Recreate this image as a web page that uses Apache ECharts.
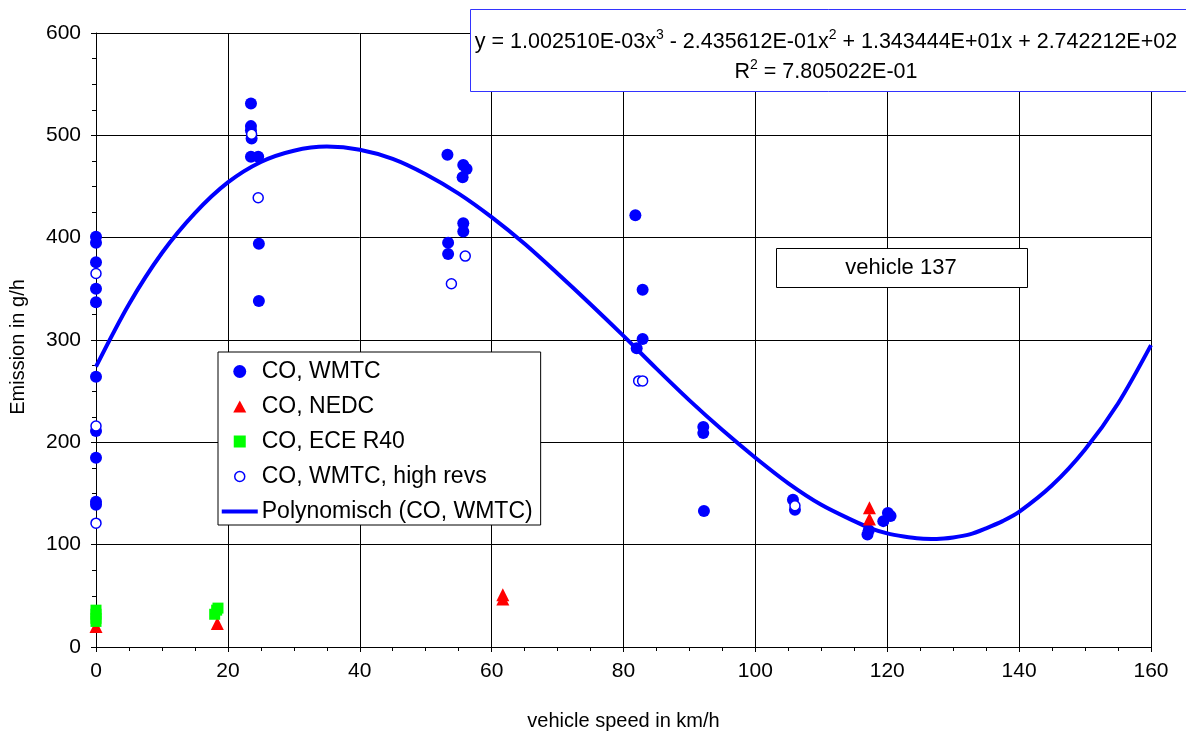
<!DOCTYPE html>
<html><head><meta charset="utf-8">
<script src="https://cdn.jsdelivr.net/npm/echarts@6/dist/echarts.min.js"></script>
<style>html,body{margin:0;padding:0;background:#fff}#c{width:1186px;height:736px}</style>
</head><body><div id="c"></div>
<script>
// CO, WMTC (filled circles) [speed, emission]
const wmtc = [[0,401],[0,395],[0,376],[0,350],[0,337],[0,264],[0,211],[0,185],[0,142],[0,139],
 [23.5,531],[23.5,509],[23.5,505],[23.6,497],[23.5,479],[24.6,479],[24.7,394],[24.7,338],
 [53.3,481],[55.7,471],[56.2,467],[55.6,459],[55.7,414],[55.7,406],[53.4,395],[53.4,384],
 [81.8,422],[82.9,349],[82.9,301],[82.0,292],
 [92.1,215],[92.1,209],[92.2,133],
 [105.7,144],[106.0,134],
 [117.0,110],[117.2,114],[119.4,123],[120.1,131],[120.5,128]];
// CO, NEDC (red triangles)
const nedc = [[0,20],[18.4,23],[61.7,51],[61.7,47],[117.3,136],[117.3,125]];
// CO, ECE R40 (green squares)
const ece = [[0,36],[0,32],[0,28],[0,25],[18.0,32],[18.3,36],[18.5,38]];
// CO, WMTC, high revs (open circles)
const highRevs = [[0,365],[0,216],[0,121],[23.6,501],[24.6,439],[56.0,382],[53.9,355],[82.3,260],[82.9,260],[106.0,138]];
// Polynomial trendline, points
const trendX = [0,5,10,15,20,25,30,35,40,45,50,55,60,65,70,75,80,85,90,95,100,105,110,115,117.5,120,122.5,125,127.5,130,132.5,135,137.5,140,145,150,155,160];
const trendY = [274,335,385,424,454,474,485,489,486,477,462,443,420,394,365,335,304,272,241,212,185,160,139,123,116,111,108,106,105.6,107,110,116,123,132,158,193,238,295];
const xTicks = {min:0,max:160,interval:20};
const yTicks = {min:0,max:600,interval:100};

const chart = echarts.init(document.getElementById('c'));
const F = 'Liberation Sans, Arial, sans-serif';
const axisCommon = {
  axisLine:{show:true,lineStyle:{color:'#000',width:1}},
  axisTick:{show:true,length:5,lineStyle:{color:'#000'}},
  minorTick:{show:true,splitNumber:4,length:4,lineStyle:{color:'#000'}},
  splitLine:{show:true,lineStyle:{color:'#000',width:1}},
  axisLabel:{color:'#000',fontFamily:F,fontSize:21},
  nameTextStyle:{color:'#000',fontFamily:F,fontSize:20}
};
const K = 'M0,0M36,12'; // keeps legend icon box 36x12 so symbols are not stretched
chart.setOption({
  animation:false,
  backgroundColor:'#fff',
  grid:{left:96,right:35,top:33,bottom:88},
  xAxis:Object.assign({type:'value',min:xTicks.min,max:xTicks.max,interval:xTicks.interval,
    name:'vehicle speed in km/h',nameLocation:'middle',nameGap:64},axisCommon,
    {axisLabel:Object.assign({},axisCommon.axisLabel,{margin:14})}),
  yAxis:Object.assign({type:'value',min:yTicks.min,max:yTicks.max,interval:yTicks.interval,
    name:'Emission in g/h',nameLocation:'middle',nameGap:68},axisCommon,
    {axisLabel:Object.assign({},axisCommon.axisLabel,{margin:15}),
     nameTextStyle:Object.assign({},axisCommon.nameTextStyle,{padding:[0,14,0,0]})}),
  legend:{
    orient:'vertical',left:218,top:352,
    backgroundColor:'#fff',borderColor:'#000',borderWidth:1,
    padding:[8,8,2,3],itemGap:12,itemWidth:36,itemHeight:13,
    textStyle:{color:'#000',fontFamily:F,fontSize:23,padding:[0,0,0,-1]},
    data:[
      {name:'CO, WMTC',icon:'path://'+K+'M24.5,6A6.5,6.5,0,1,1,11.5,6A6.5,6.5,0,1,1,24.5,6Z'},
      {name:'CO, NEDC',icon:'path://'+K+'M18,0L24.5,12L11.5,12Z'},
      {name:'CO, ECE R40',icon:'path://'+K+'M12,0L24,0L24,12L12,12Z'},
      {name:'CO, WMTC, high revs',icon:'path://'+K+'M23,6A5,5,0,1,1,13,6A5,5,0,1,1,23,6Z',itemStyle:{color:'#fff',borderColor:'#0000ff',borderWidth:1.5}},
      {name:'Polynomisch (CO, WMTC)',icon:'path://'+K+'M0,4L36,4L36,8L0,8Z'}
    ]
  },
  series:[
    {name:'Polynomisch (CO, WMTC)',type:'line',data:trendX.map((x,i)=>[x,trendY[i]]),
     smooth:0.3,showSymbol:false,symbol:'none',lineStyle:{color:'#0000ff',width:4},itemStyle:{color:'#0000ff'},z:1},
    {name:'CO, WMTC',type:'scatter',data:wmtc,symbol:'circle',symbolSize:12,itemStyle:{color:'#0000ff',opacity:1},z:2},
    {name:'CO, NEDC',type:'scatter',data:nedc,symbol:'triangle',symbolSize:13,itemStyle:{color:'#ff0000',opacity:1},z:3},
    {name:'CO, ECE R40',type:'scatter',data:ece,symbol:'rect',symbolSize:11,itemStyle:{color:'#00ff00',opacity:1},z:4},
    {name:'CO, WMTC, high revs',type:'scatter',data:highRevs,symbol:'circle',symbolSize:10,
     itemStyle:{color:'#fff',borderColor:'#0000ff',borderWidth:1.5,opacity:1},z:5}
  ],
  graphic:[
    {type:'rect',left:470,top:9,z:100,shape:{width:720,height:82},style:{fill:'#fff',stroke:'#3333ff',lineWidth:1}},
    {type:'text',x:826,y:42,z:101,style:{
      align:'center',verticalAlign:'middle',
      text:'{t|y = 1.002510E-03x}{s|3}{t| - 2.435612E-01x}{s|2}{t| + 1.343444E+01x + 2.742212E+02}',
      rich:{t:{fontSize:21.5,fontFamily:F,fill:'#000'},s:{fontSize:14,fontFamily:F,fill:'#000',padding:[0,0,14,0]}}
    }},
    {type:'text',x:826,y:72,z:101,style:{
      align:'center',verticalAlign:'middle',
      text:'{t|R}{s|2}{t| = 7.805022E-01}',
      rich:{t:{fontSize:21.5,fontFamily:F,fill:'#000'},s:{fontSize:14,fontFamily:F,fill:'#000',padding:[0,0,14,0]}}
    }},
    {type:'rect',left:776,top:248,z:100,shape:{width:251,height:39},style:{fill:'#fff',stroke:'#000',lineWidth:1}},
    {type:'text',x:901,y:268,z:101,style:{align:'center',verticalAlign:'middle',text:'vehicle 137',fontSize:22,fontFamily:F,fill:'#000'}}
  ]
});
</script></body></html>
